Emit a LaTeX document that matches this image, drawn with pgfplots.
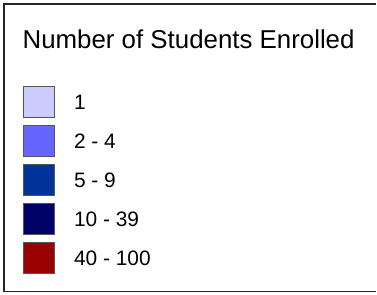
\documentclass[border=0pt]{standalone}
\usepackage{pgfplots}
\pgfplotsset{compat=1.18}
\usepackage{fontspec}
\setmainfont{Liberation Sans}
\definecolor{c1}{HTML}{CCCCFF}
\definecolor{c2}{HTML}{6666FF}
\definecolor{c3}{HTML}{003399}
\definecolor{c4}{HTML}{000066}
\definecolor{c5}{HTML}{990000}
\definecolor{edge}{HTML}{555555}
\begin{document}
\begin{tikzpicture}
\begin{axis}[
  at={(0,0)}, anchor=south west,
  scale only axis, width=377bp, height=295bp,
  xmin=0, xmax=377, ymin=0, ymax=295, y dir=reverse,
  hide axis, clip=false,
]
\addplot[fill=c1, draw=edge, line width=0.8bp] coordinates {(23.5,86.5) (55,86.5) (55,117.5) (23.5,117.5)} -- cycle;
\addplot[fill=c2, draw=edge, line width=0.8bp] coordinates {(23.5,125.5) (55,125.5) (55,156.5) (23.5,156.5)} -- cycle;
\addplot[fill=c3, draw=edge, line width=0.8bp] coordinates {(23.5,164.5) (55,164.5) (55,195.5) (23.5,195.5)} -- cycle;
\addplot[fill=c4, draw=edge, line width=0.8bp] coordinates {(23.5,203.5) (55,203.5) (55,234.5) (23.5,234.5)} -- cycle;
\addplot[fill=c5, draw=edge, line width=0.8bp] coordinates {(23.5,242.5) (55,242.5) (55,273.5) (23.5,273.5)} -- cycle;
\draw[line width=1.6bp, color=black!85] (axis cs:377,3.8) -- (axis cs:3.8,3.8) -- (axis cs:3.8,292) -- (axis cs:377,292);
\node[anchor=base west, inner sep=0pt, font=\fontsize{26}{30}\selectfont] at (axis cs:22.5,49) {Number of Students Enrolled};
\node[anchor=base west, inner sep=0pt, font=\fontsize{21}{24}\selectfont] at (axis cs:74,110) {1};
\node[anchor=base west, inner sep=0pt, font=\fontsize{21}{24}\selectfont] at (axis cs:74,149) {2 - 4};
\node[anchor=base west, inner sep=0pt, font=\fontsize{21}{24}\selectfont] at (axis cs:74,188) {5 - 9};
\node[anchor=base west, inner sep=0pt, font=\fontsize{21}{24}\selectfont] at (axis cs:74,227) {10 - 39};
\node[anchor=base west, inner sep=0pt, font=\fontsize{21}{24}\selectfont] at (axis cs:74,266) {40 - 100};
\end{axis}
\path (0,0) rectangle (377bp,295bp);
\end{tikzpicture}
\end{document}
